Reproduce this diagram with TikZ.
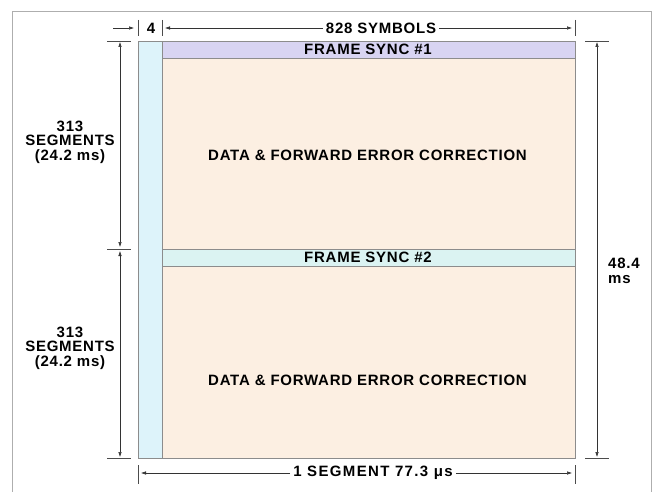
\documentclass[tikz,border=0pt]{standalone}
\usepackage{fontspec}
\setmainfont{Liberation Sans}
\newfontfamily\widefont[LetterSpace=5]{Liberation Sans}
\newfontfamily\widerfont[LetterSpace=9]{Liberation Sans}
\usetikzlibrary{arrows.meta}
\definecolor{stripc}{HTML}{DDF3FA}
\definecolor{datac}{HTML}{FCEFE2}
\definecolor{fsone}{HTML}{D8D4F2}
\definecolor{fstwo}{HTML}{DBF3F2}
\definecolor{linec}{HTML}{8C8C8C}
\begin{document}
\begin{tikzpicture}[x=1pt,y=-1pt,
  lbl/.style={font=\widefont\bfseries\fontsize{15}{14.5}\selectfont, inner sep=1pt},
  dlbl/.style={lbl, inner sep=3pt},
  dim/.style={draw=black!80, line width=0.5pt},
  tick/.style={draw=black!70, line width=0.5pt},
  tip/.style={-{Latex[length=5pt,width=3.5pt]}},
  both/.style={{Latex[length=5pt,width=3.5pt]}-{Latex[length=5pt,width=3.5pt]}},
  box/.style={draw=linec, line width=0.6pt}]
\useasboundingbox (0,0) rectangle (659,492);
% outer frame
\draw[linec!70, line width=0.6pt] (12,492) -- (12,11) -- (651,11) -- (651,492);
% regions
\path[box, fill=stripc] (138,41) rectangle (162,458);
\path[box, fill=datac] (162,41) rectangle (575,458);
\path[box, fill=fsone] (162,41) rectangle (575,58);
\path[box, fill=fstwo] (162,249) rectangle (575,266);
% labels in regions
\node[lbl] (fs1) at (368,49.5) {FRAME SYNC \#1};
\node[lbl] (fs2) at (368,257.5) {FRAME SYNC \#2};
\node[lbl] (d1) at (367.5,155) {DATA \& FORWARD ERROR CORRECTION};
\node[lbl] (d2) at (367.5,380) {DATA \& FORWARD ERROR CORRECTION};
% top dimension
\coordinate (ta) at (138,20); \coordinate (tb) at (138,36);
\coordinate (tc) at (162,20); \coordinate (td) at (162,36);
\coordinate (te) at (575,20); \coordinate (tf) at (575,36);
\draw[tick] (ta) -- (tb); \draw[tick] (tc) -- (td); \draw[tick] (te) -- (tf);
\coordinate (fourA) at (113,28); \coordinate (fourB) at (134,28);
\draw[dim, tip] (fourA) -- (fourB);
\node[lbl] (four) at (151,28) {4};
\node[dlbl] (sym) at (381,28) {828 SYMBOLS};
\coordinate (symL) at (165,28); \coordinate (symR) at (572,28);
\draw[dim, tip] (sym.west) -- (symL);
\draw[dim, tip] (sym.east) -- (symR);
% left dimension
\coordinate (la) at (107,41); \coordinate (lb) at (131,41);
\coordinate (lc) at (107,249); \coordinate (ld) at (131,249);
\coordinate (le) at (107,458); \coordinate (lf) at (131,458);
\draw[tick] (la) -- (lb); \draw[tick] (lc) -- (ld); \draw[tick] (le) -- (lf);
\coordinate (l1) at (120,42); \coordinate (l2) at (120,247);
\coordinate (l3) at (120,251); \coordinate (l4) at (120,457);
\draw[dim, both] (l1) -- (l2);
\draw[dim, both] (l3) -- (l4);
\node[lbl, align=center] (seg1) at (70,142) {313\\SEGMENTS\\(24.2 ms)};
\node[lbl, align=center] (seg2) at (70,348) {313\\SEGMENTS\\(24.2 ms)};
% right dimension
\coordinate (ra) at (585,41); \coordinate (rb) at (609,41);
\coordinate (rc) at (585,458); \coordinate (rd) at (609,458);
\draw[tick] (ra) -- (rb); \draw[tick] (rc) -- (rd);
\coordinate (r1) at (597,42); \coordinate (r2) at (597,457);
\draw[dim, both] (r1) -- (r2);
\node[lbl, align=left, anchor=west] (ms) at (607,271) {48.4\\ms};
% bottom dimension
\coordinate (ba) at (138,465); \coordinate (bb) at (138,484);
\coordinate (bc) at (575,465); \coordinate (bd) at (575,484);
\draw[tick] (ba) -- (bb); \draw[tick] (bc) -- (bd);
\node[dlbl, font=\widerfont\bfseries\fontsize{15}{14.5}\selectfont] (seg) at (373,473) {1 SEGMENT 77.3 μs};
\coordinate (bL) at (141,473); \coordinate (bR) at (572,473);
\draw[dim, tip] (seg.west) -- (bL);
\draw[dim, tip] (seg.east) -- (bR);
\end{tikzpicture}
\end{document}
